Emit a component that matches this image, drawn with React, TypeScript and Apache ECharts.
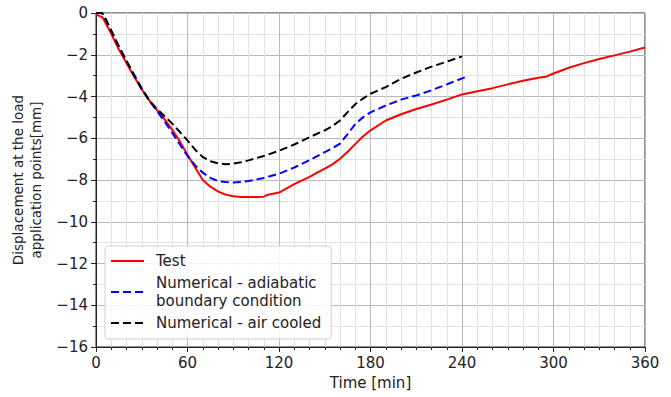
import React, { useEffect, useRef } from "react";
import * as echarts from "echarts";

const testTime = [0, 1, 4, 5, 10, 15, 20, 25, 30, 35, 40, 45, 50, 55, 60, 65, 70, 75, 80, 85, 90, 95, 100, 105, 110, 112, 120, 130, 140, 145, 150, 155, 160, 165, 170, 175, 180, 190, 200, 210, 220, 230, 240, 250, 260, 270, 280, 290, 295, 300, 310, 320, 330, 340, 350, 360];
const testValue = [0, -0.1, -0.2, -0.3, -1.0, -1.75, -2.4, -3.05, -3.65, -4.2, -4.65, -5.1, -5.6, -6.15, -6.8, -7.4, -8.0, -8.32, -8.55, -8.7, -8.78, -8.82, -8.82, -8.82, -8.8, -8.72, -8.6, -8.2, -7.85, -7.65, -7.46, -7.25, -6.98, -6.65, -6.28, -5.92, -5.62, -5.15, -4.85, -4.6, -4.38, -4.15, -3.9, -3.75, -3.6, -3.42, -3.25, -3.1, -3.05, -2.9, -2.62, -2.4, -2.2, -2.03, -1.85, -1.65];

const adiabaticTime = [0, 4, 6, 10, 15, 20, 25, 30, 35, 40, 45, 50, 55, 60, 65, 70, 75, 80, 85, 90, 95, 100, 110, 120, 130, 140, 150, 155, 160, 165, 170, 175, 180, 190, 200, 210, 220, 230, 242];
const adiabaticValue = [0, 0, -0.25, -0.85, -1.6, -2.3, -2.95, -3.6, -4.2, -4.7, -5.2, -5.75, -6.3, -6.85, -7.3, -7.65, -7.9, -8.05, -8.1, -8.12, -8.1, -8.05, -7.9, -7.7, -7.4, -7.05, -6.66, -6.48, -6.26, -5.8, -5.32, -5.0, -4.76, -4.43, -4.15, -3.95, -3.7, -3.42, -3.08];

const airTime = [0, 4, 6, 10, 15, 20, 25, 30, 35, 40, 45, 50, 55, 60, 65, 70, 75, 80, 85, 90, 95, 100, 110, 120, 130, 140, 150, 155, 160, 165, 170, 175, 180, 190, 200, 210, 220, 230, 240];
const airValue = [0, 0, -0.25, -0.85, -1.6, -2.3, -3.0, -3.65, -4.2, -4.6, -4.95, -5.3, -5.7, -6.1, -6.55, -6.9, -7.1, -7.2, -7.24, -7.22, -7.15, -7.06, -6.85, -6.6, -6.3, -5.95, -5.62, -5.42, -5.15, -4.75, -4.37, -4.1, -3.87, -3.55, -3.15, -2.85, -2.57, -2.33, -2.08];

const seriesNames = ["Test", "Numerical - adiabatic\nboundary condition", "Numerical - air cooled"];
const xTicks = [0, 60, 120, 180, 240, 300, 360];
const yTicks = [0, -2, -4, -6, -8, -10, -12, -14, -16];

const FONT = "DejaVu Sans";

function pairs(t: number[], v: number[]) {
  return t.map((x, i) => [x, v[i]]);
}

export default function App() {
  const ref = useRef<HTMLDivElement>(null);
  useEffect(() => {
    if (!ref.current) return;
    const chart = echarts.init(ref.current, undefined, { renderer: "svg" });
    const common = {
      axisLine: { show: true, onZero: false, lineStyle: { color: "#222", width: 1 } },
      axisTick: { show: true, inside: false, length: 5, lineStyle: { color: "#222" } },
      splitLine: { show: true, lineStyle: { color: "#b8b8b8", width: 1 } },
      minorSplitLine: { show: true, lineStyle: { color: "#e2e2e2", width: 1 } },
    };
    chart.setOption({
      animation: false,
      backgroundColor: "#fff",
      grid: {
        left: 96,
        right: 26,
        top: 13,
        bottom: 50,
        show: true,
        borderColor: "#222",
        borderWidth: 1,
        backgroundColor: "transparent",
      },
      legend: {
        orient: "vertical",
        left: 105,
        top: 246,
        data: seriesNames,
        itemWidth: 33,
        itemHeight: 12,
        itemGap: 4,
        padding: [6, 10, 7, 5],
        backgroundColor: "rgba(255,255,255,0.85)",
        borderColor: "#d0d0d0",
        borderWidth: 1,
        borderRadius: 3,
        itemStyle: { opacity: 0 },
        textStyle: { color: "#222", fontFamily: FONT, fontSize: 15, lineHeight: 18, padding: [0, 0, 0, 7] },
      },
      xAxis: {
        type: "value",
        min: 0,
        max: 360,
        interval: 60,
        name: "Time [min]",
        nameLocation: "middle",
        nameGap: 28,
        ...common,
        minorTick: { show: true, splitNumber: 6, length: 3, lineStyle: { color: "#222" } },
        axisLabel: {
          color: "#222",
          fontFamily: FONT,
          fontSize: 15,
          margin: 8,
          customValues: xTicks,
        },
        nameTextStyle: { color: "#222", fontFamily: FONT, fontSize: 15 },
      },
      yAxis: {
        type: "value",
        min: -16,
        max: 0,
        interval: 2,
        name: "Displacement at the load\napplication points[mm]",
        nameLocation: "middle",
        nameGap: 48,
        nameRotate: 90,
        ...common,
        minorTick: { show: true, splitNumber: 2, length: 3, lineStyle: { color: "#222" } },
        axisLabel: {
          color: "#222",
          fontFamily: FONT,
          fontSize: 15,
          margin: 8,
          customValues: yTicks,
          formatter: (v: number) => (v < 0 ? "\u2212" + Math.abs(v) : String(v)),
        },
        nameTextStyle: { color: "#222", fontFamily: FONT, fontSize: 13.5, lineHeight: 18 },
      },
      series: [
        {
          name: seriesNames[0],
          type: "line",
          data: pairs(testTime, testValue),
          showSymbol: false,
          symbol: "none",
          lineStyle: { color: "#ff0000", width: 2 },
          itemStyle: { color: "#ff0000" },
          z: 3,
        },
        {
          name: seriesNames[1],
          type: "line",
          data: pairs(adiabaticTime, adiabaticValue),
          showSymbol: false,
          symbol: "none",
          lineStyle: { color: "#0000ff", width: 2, type: [8, 4] },
          itemStyle: { color: "#0000ff" },
          z: 4,
        },
        {
          name: seriesNames[2],
          type: "line",
          data: pairs(airTime, airValue),
          showSymbol: false,
          symbol: "none",
          lineStyle: { color: "#000000", width: 2, type: [8, 4] },
          itemStyle: { color: "#000000" },
          z: 5,
        },
      ],
    });
    return () => chart.dispose();
  }, []);
  return (
    <div
      ref={ref}
      style={{ position: "fixed", left: 0, top: 0, width: 671, height: 397, background: "#fff" }}
    />
  );
}
